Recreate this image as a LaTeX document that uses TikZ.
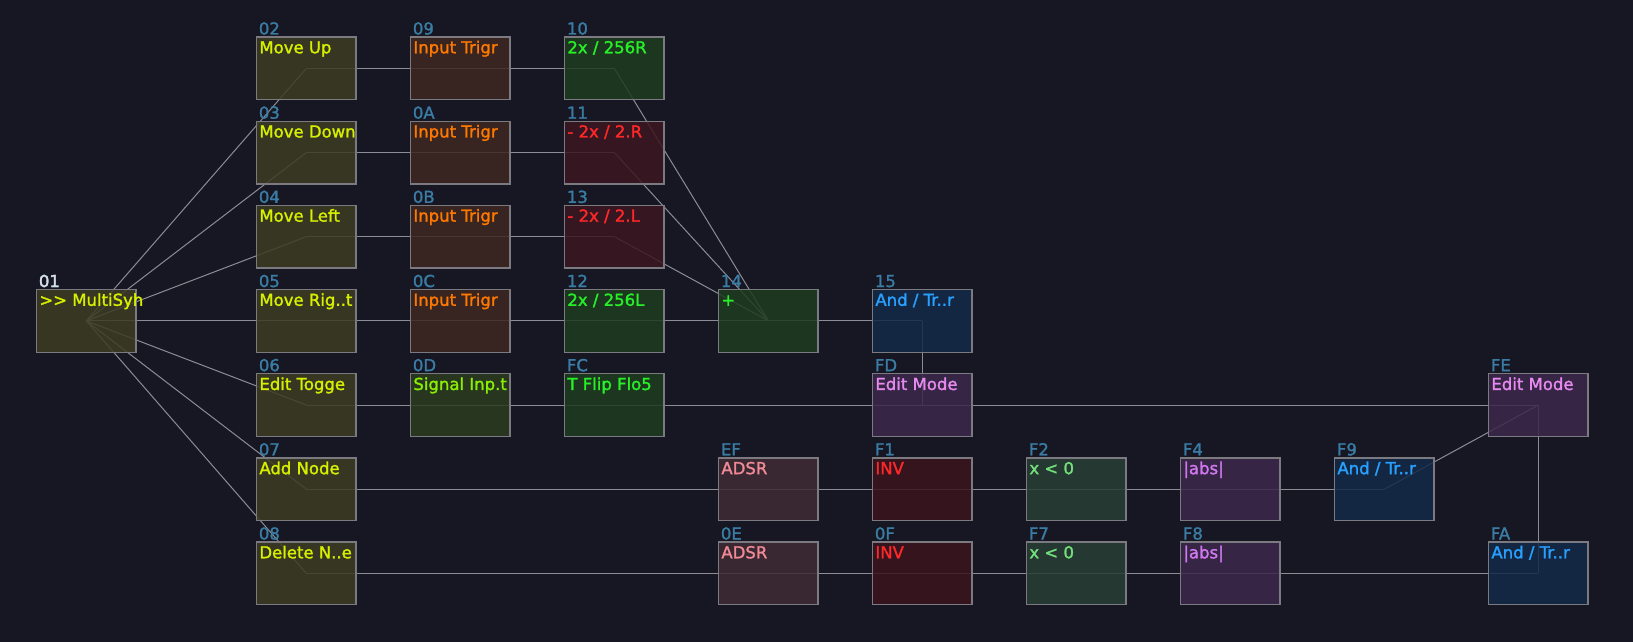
\documentclass[tikz,border=0pt]{standalone}
\usepackage{fontspec}
\newfontfamily\synthfont[FakeBold=1.6]{DejaVu Sans}
\usetikzlibrary{positioning}
\pgfdeclarelayer{backdrop}
\pgfdeclarelayer{wires}
\pgfsetlayers{backdrop,wires,main}
\definecolor{canvas}{RGB}{22,23,34}
\definecolor{boxline}{RGB}{122,122,128}
\definecolor{wireColor}{RGB}{140,140,148}
\definecolor{idColor}{RGB}{58,124,164}
\definecolor{idWhite}{RGB}{220,220,228}
% box fills
\definecolor{fillOlive}{RGB}{60,60,34}
\definecolor{fillBrown}{RGB}{62,40,34}
\definecolor{fillGreen}{RGB}{31,60,32}
\definecolor{fillMoss}{RGB}{44,60,32}
\definecolor{fillRed}{RGB}{60,22,32}
\definecolor{fillBlue}{RGB}{20,42,72}
\definecolor{fillPurple}{RGB}{60,40,74}
\definecolor{fillRose}{RGB}{64,42,52}
\definecolor{fillWine}{RGB}{60,20,30}
\definecolor{fillSage}{RGB}{40,62,52}
% title colours
\definecolor{txtYellow}{RGB}{214,240,0}
\definecolor{txtOrange}{RGB}{255,120,0}
\definecolor{txtGreen}{RGB}{40,240,40}
\definecolor{txtLime}{RGB}{136,240,0}
\definecolor{txtRed}{RGB}{255,40,40}
\definecolor{txtBlue}{RGB}{40,160,255}
\definecolor{txtViolet}{RGB}{230,138,240}
\definecolor{txtPink}{RGB}{240,138,150}
\definecolor{txtSage}{RGB}{116,224,124}
\definecolor{txtAbs}{RGB}{208,120,240}
\tikzset{
  block/.style={draw=boxline,line width=1.3pt,fill opacity=0.85,
    minimum width=99.3pt,minimum height=62.7pt,anchor=north west,
    inner sep=0pt,outer sep=0pt},
  idtext/.style={anchor=base west,inner sep=0pt,text=idColor,
    font=\synthfont\fontsize{16.5}{16.5}\selectfont},
  titletext/.style={anchor=base west,inner sep=0pt,
    font=\synthfont\fontsize{16.5}{16.5}\selectfont},
  wire/.style={draw=wireColor,line width=1pt}
}
% id, x, row, fill, text colour, title
\newcommand\synthnode[6]{%
  \node[block,fill=#4] (n#1) at (#2,{37+84.17*#3}) {};
  \node[idtext] (id#1) at ([xshift=2pt,yshift=2.5pt]n#1.north west) {#1};
  \node[titletext,text=#5] (t#1) at ([xshift=2.5pt,yshift=-16.3pt]n#1.north west) {#6};}

\begin{document}
\begin{tikzpicture}[x=1pt,y=-1pt]
  \begin{pgfonlayer}{backdrop}
    \fill[canvas] (0,0) rectangle (1633,642);
  \end{pgfonlayer}
  \useasboundingbox (0,0) rectangle (1633,642);

  % input column
  \synthnode{01}{36.7}{3}{fillOlive}{txtYellow}{>> MultiSyh}
  \synthnode{02}{256.7}{0}{fillOlive}{txtYellow}{Move Up}
  \synthnode{03}{256.7}{1}{fillOlive}{txtYellow}{Move Down}
  \synthnode{04}{256.7}{2}{fillOlive}{txtYellow}{Move Left}
  \synthnode{05}{256.7}{3}{fillOlive}{txtYellow}{Move Rig..t}
  \synthnode{06}{256.7}{4}{fillOlive}{txtYellow}{Edit Togge}
  \synthnode{07}{256.7}{5}{fillOlive}{txtYellow}{Add Node}
  \synthnode{08}{256.7}{6}{fillOlive}{txtYellow}{Delete N..e}
  \node[idtext,text=idWhite] at (id01.base west) {01};

  % triggers
  \synthnode{09}{410.7}{0}{fillBrown}{txtOrange}{Input Trigr}
  \synthnode{0A}{410.7}{1}{fillBrown}{txtOrange}{Input Trigr}
  \synthnode{0B}{410.7}{2}{fillBrown}{txtOrange}{Input Trigr}
  \synthnode{0C}{410.7}{3}{fillBrown}{txtOrange}{Input Trigr}
  \synthnode{0D}{410.7}{4}{fillMoss}{txtLime}{Signal Inp.t}

  % scaling
  \synthnode{10}{564.7}{0}{fillGreen}{txtGreen}{2x / 256R}
  \synthnode{11}{564.7}{1}{fillRed}{txtRed}{- 2x / 2.R}
  \synthnode{13}{564.7}{2}{fillRed}{txtRed}{- 2x / 2.L}
  \synthnode{12}{564.7}{3}{fillGreen}{txtGreen}{2x / 256L}
  \synthnode{FC}{564.7}{4}{fillGreen}{txtGreen}{T Flip Flo5}

  \synthnode{14}{718.7}{3}{fillGreen}{txtGreen}{+}
  \synthnode{EF}{718.7}{5}{fillRose}{txtPink}{ADSR}
  \synthnode{0E}{718.7}{6}{fillRose}{txtPink}{ADSR}

  \synthnode{15}{872.7}{3}{fillBlue}{txtBlue}{And / Tr..r}
  \synthnode{FD}{872.7}{4}{fillPurple}{txtViolet}{Edit Mode}
  \synthnode{F1}{872.7}{5}{fillWine}{txtRed}{INV}
  \synthnode{0F}{872.7}{6}{fillWine}{txtRed}{INV}

  \synthnode{F2}{1026.7}{5}{fillSage}{txtSage}{x < 0}
  \synthnode{F7}{1026.7}{6}{fillSage}{txtSage}{x < 0}
  \synthnode{F4}{1180.7}{5}{fillPurple}{txtAbs}{|abs|}
  \synthnode{F8}{1180.7}{6}{fillPurple}{txtAbs}{|abs|}
  \synthnode{F9}{1334.7}{5}{fillBlue}{txtBlue}{And / Tr..r}
  \synthnode{FE}{1488.7}{4}{fillPurple}{txtViolet}{Edit Mode}
  \synthnode{FA}{1488.7}{6}{fillBlue}{txtBlue}{And / Tr..r}

  % wires, centre to centre
  \begin{pgfonlayer}{wires}
    \foreach \a/\b in {01/02,01/03,01/04,01/05,01/06,01/07,01/08,
        02/09,03/0A,04/0B,05/0C,06/0D,
        09/10,0A/11,0B/13,0C/12,0D/FC,
        10/14,11/14,13/14,12/14,14/15,15/FD,FC/FD,FD/FE,
        07/EF,EF/F1,F1/F2,F2/F4,F4/F9,F9/FE,
        08/0E,0E/0F,0F/F7,F7/F8,F8/FA,FE/FA}
      \draw[wire] (n\a.center) -- (n\b.center);
  \end{pgfonlayer}
\end{tikzpicture}
\end{document}
